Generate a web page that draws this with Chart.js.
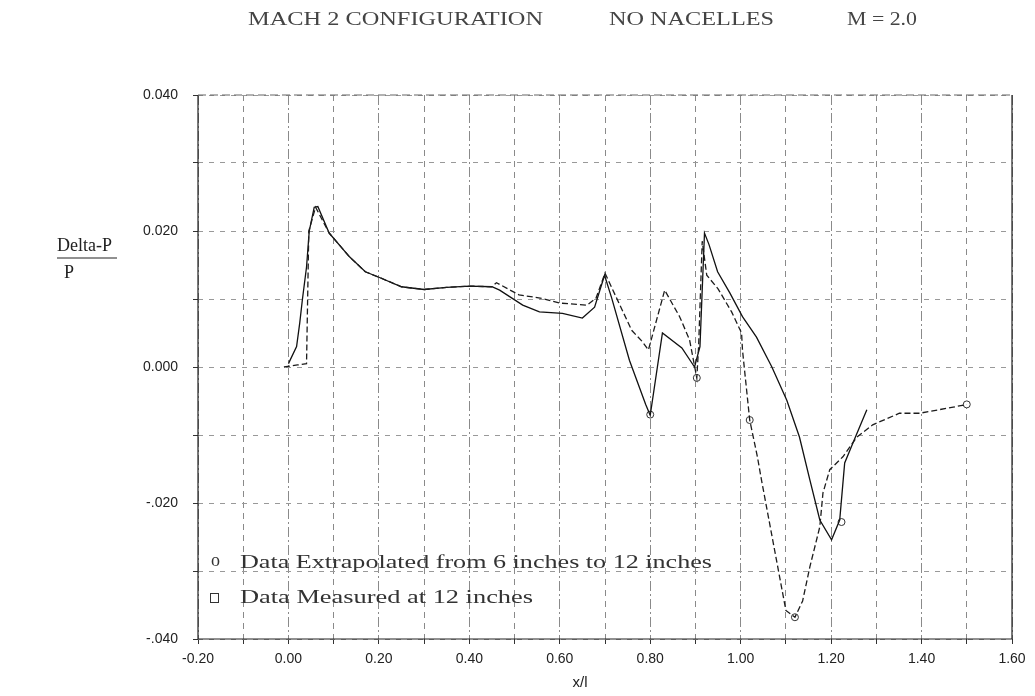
<!DOCTYPE html>
<html>
<head>
<meta charset="utf-8">
<script src="https://cdn.jsdelivr.net/npm/chart.js@4"></script>
<style>
  html, body { margin: 0; padding: 0; background: #fff; }
  #wrap { width: 1035px; height: 696px; }
</style>
</head>
<body>
<div id="wrap"><canvas id="chart" width="1035" height="696"></canvas></div>
<script>
// === DATA ===
const titleParts = ['MACH 2 CONFIGURATION', 'NO NACELLES', 'M = 2.0'];
const legendLabels = ['Data Extrapolated from 6 inches to 12 inches', 'Data Measured at 12 inches'];

// dashed curve, circle symbols
const extrapX = [-0.01, 0.02, 0.04, 0.045, 0.06, 0.09, 0.135, 0.17, 0.20, 0.25, 0.30, 0.35, 0.40, 0.45,
    0.46, 0.51, 0.56, 0.60, 0.66, 0.68, 0.70, 0.728, 0.759, 0.783, 0.796, 0.832, 0.865, 0.887, 0.903,
    0.907, 0.915, 0.925, 0.95, 0.98, 1.002, 1.004, 1.02, 1.037, 1.046, 1.10, 1.12, 1.137, 1.153, 1.175,
    1.182, 1.197, 1.226, 1.257, 1.292, 1.351, 1.396, 1.47, 1.50];
const extrapY = [0.0, 0.0003, 0.0005, 0.020, 0.0235, 0.0197, 0.0162, 0.014, 0.0132, 0.0118, 0.0114, 0.0117, 0.0119, 0.0118,
    0.0124, 0.0106, 0.0101, 0.0094, 0.0091, 0.0101, 0.0138, 0.0098, 0.0054, 0.0037, 0.0025, 0.0113, 0.0074, 0.004, -0.0016,
    0.003, 0.0185, 0.0135, 0.0115, 0.0081, 0.005, 0.0025, -0.0078, -0.0132, -0.0166, -0.0358, -0.0368, -0.0344, -0.0294, -0.0235,
    -0.0185, -0.0151, -0.0132, -0.0103, -0.0085, -0.0068, -0.0068, -0.0059, -0.0055];

// solid curve
const measX = [0.00, 0.018, 0.025, 0.031, 0.040, 0.046, 0.057, 0.065, 0.09, 0.135, 0.17, 0.20, 0.25, 0.30, 0.35,
    0.40, 0.45, 0.467, 0.518, 0.555, 0.606, 0.65, 0.677, 0.699, 0.715, 0.754, 0.79, 0.80, 0.827, 0.87, 0.898,
    0.91, 0.92, 0.93, 0.949, 0.976, 1.004, 1.035, 1.069, 1.102, 1.13, 1.153, 1.175, 1.201, 1.219, 1.23, 1.248, 1.279];
const measY = [0.0005, 0.003, 0.0065, 0.010, 0.0147, 0.020, 0.0235, 0.0236, 0.0197, 0.0162, 0.014, 0.0132, 0.0118, 0.0114, 0.0117,
    0.0119, 0.0118, 0.0113, 0.0091, 0.0081, 0.0079, 0.0072, 0.0088, 0.0135, 0.0101, 0.001, -0.0055, -0.0071, 0.005, 0.0028, 0.0,
    0.003, 0.0197, 0.018, 0.014, 0.0109, 0.0074, 0.0044, 0.0, -0.0049, -0.0103, -0.0166, -0.0225, -0.0254, -0.0225, -0.0141, -0.0112, -0.0063];

// the few circle symbols that are visible on the scan
const markX = [0.80, 0.903, 1.02, 1.12, 1.223, 1.50];
const markY = [-0.007, -0.0016, -0.0078, -0.0368, -0.0228, -0.0055];

const xMin = -0.20, xMax = 1.60, xStep = 0.10;
const yMin = -0.040, yMax = 0.040, yStep = 0.010;

const toPoints = (xs, ys) => xs.map((x, i) => ({ x: x, y: ys[i] }));

// draw text stretched to a given width (the scan type is wide and spaced)
const fitText = (ctx, text, x, y, width) => {
    const w = ctx.measureText(text).width;
    ctx.save();
    ctx.translate(x, y);
    ctx.scale(width / w, 1);
    ctx.fillText(text, 0, 0);
    ctx.restore();
};

const serif = '"Liberation Serif", "DejaVu Serif", serif';
const sans = '"Liberation Sans", Arial, sans-serif';

// frame, title, legend, axis captions
const extras = {
    id: 'extras',
    afterDraw(chart) {
        const ctx = chart.ctx;
        const a = chart.chartArea;
        ctx.save();

        // frame
        ctx.strokeStyle = '#222';
        ctx.lineWidth = 1.2;
        ctx.beginPath();
        ctx.moveTo(a.left, a.top); ctx.lineTo(a.left, a.bottom); ctx.lineTo(a.right, a.bottom); ctx.lineTo(a.right, a.top);
        ctx.stroke();
        ctx.setLineDash([8, 4]);
        ctx.strokeStyle = '#666';
        ctx.beginPath();
        ctx.moveTo(a.left, a.top); ctx.lineTo(a.right, a.top);
        ctx.stroke();
        ctx.setLineDash([]);

        // title
        ctx.fillStyle = '#444';
        ctx.font = '18px ' + serif;
        ctx.textBaseline = 'middle';
        ctx.textAlign = 'left';
        fitText(ctx, titleParts[0], 248, 20, 295);
        fitText(ctx, titleParts[1], 609, 20, 165);
        fitText(ctx, titleParts[2], 847, 20, 70);

        // y caption as a fraction
        ctx.fillStyle = '#222';
        ctx.font = '18px ' + serif;
        fitText(ctx, 'Delta-P', 57, 246, 55);
        ctx.strokeStyle = '#222';
        ctx.lineWidth = 1;
        ctx.beginPath();
        ctx.moveTo(57, 258); ctx.lineTo(117, 258);
        ctx.stroke();
        ctx.fillText('P', 64, 273);

        // x caption
        ctx.font = '15px ' + sans;
        ctx.textAlign = 'center';
        ctx.fillText('x/l', 580, 683);

        // legend
        ctx.textAlign = 'left';
        ctx.font = '18px ' + serif;
        ctx.fillStyle = '#333';
        ctx.fillText('o', 211, 561);
        fitText(ctx, legendLabels[0], 240, 563, 472);
        ctx.strokeStyle = '#333';
        ctx.lineWidth = 1;
        ctx.strokeRect(210.5, 593.5, 8, 9);
        fitText(ctx, legendLabels[1], 240, 598, 293);

        ctx.restore();
    }
};

new Chart(document.getElementById('chart'), {
    type: 'scatter',
    data: {
        datasets: [
            {
                label: legendLabels[0],
                data: toPoints(extrapX, extrapY),
                showLine: true,
                borderColor: '#1c1c1c',
                borderWidth: 1.3,
                borderDash: [6, 3],
                pointRadius: 0,
                tension: 0
            },
            {
                label: legendLabels[1],
                data: toPoints(measX, measY),
                showLine: true,
                borderColor: '#111',
                borderWidth: 1.3,
                pointRadius: 0,
                tension: 0
            },
            {
                label: 'symbols',
                data: toPoints(markX, markY),
                showLine: false,
                pointStyle: 'circle',
                pointRadius: 3.5,
                pointBackgroundColor: '#fff',
                pointBorderColor: '#333',
                pointBorderWidth: 1
            }
        ]
    },
    options: {
        responsive: false,
        animation: false,
        layout: { padding: { left: 0, top: 95, right: 23, bottom: 0 } },
        plugins: {
            legend: { display: false },
            title: { display: false },
            tooltip: { enabled: false }
        },
        scales: {
            x: {
                type: 'linear',
                min: xMin,
                max: xMax,
                afterFit: (scale) => { scale.height = 57; },
                border: {
                    display: false,
                    dash: (c) => (Math.round(c.tick.value * 10) % 2 === 0 ? [10, 3, 2, 3] : [6, 5])
                },
                grid: {
                    color: '#8a8a8a',
                    lineWidth: 1,
                    tickLength: 5,
                    tickColor: '#333'
                },
                ticks: {
                    stepSize: xStep,
                    autoSkip: false,
                    maxRotation: 0,
                    padding: 7,
                    color: '#222',
                    font: { family: sans, size: 14 },
                    callback: (v) => {
                        const n = Math.round(v * 10);
                        if (n % 2 !== 0) return '';
                        return (n / 10).toFixed(2);
                    }
                }
            },
            y: {
                type: 'linear',
                min: yMin,
                max: yMax,
                afterFit: (scale) => { scale.width = 198; },
                border: {
                    display: false,
                    dash: [5, 6]
                },
                grid: {
                    color: '#999',
                    lineWidth: 1,
                    tickLength: 5,
                    tickColor: '#333'
                },
                ticks: {
                    stepSize: yStep,
                    autoSkip: false,
                    padding: 15,
                    color: '#222',
                    font: { family: sans, size: 14 },
                    callback: (v) => {
                        const n = Math.round(v * 100);
                        if (n % 2 !== 0) return '';
                        const val = n / 100;
                        if (val < 0) return '-' + Math.abs(val).toFixed(3).slice(1);
                        return val.toFixed(3);
                    }
                }
            }
        }
    },
    plugins: [extras]
});
</script>
</body>
</html>
